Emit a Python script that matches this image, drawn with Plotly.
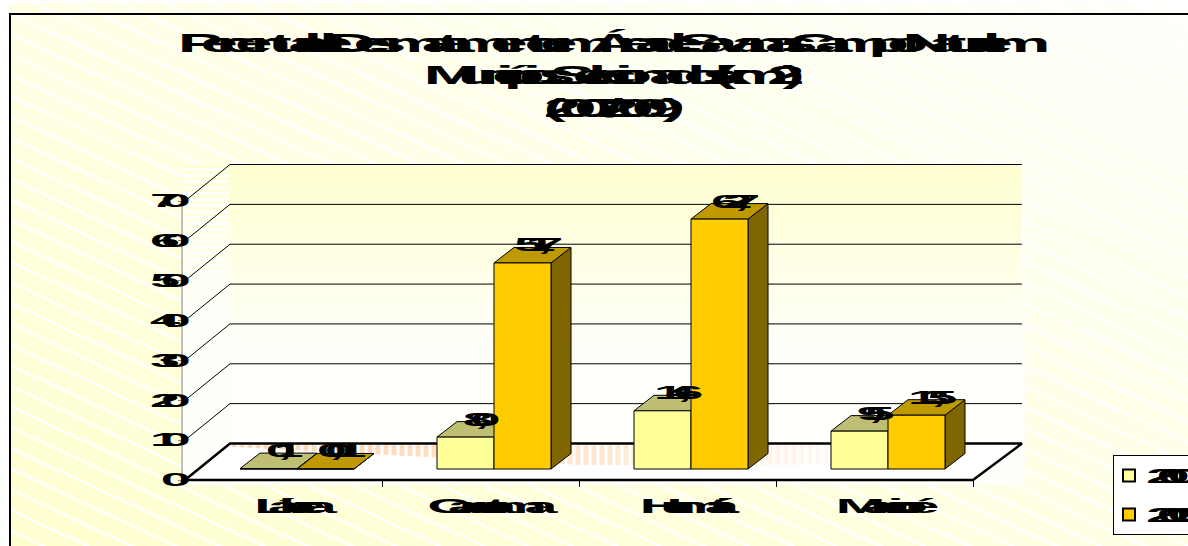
import plotly.graph_objects as go

categories = ["Lábrea", "Canutama", "Humaitá", "Manicoré"]
series_names = ["2007", "2009"]
values_2007 = [0.1, 8.0, 14.6, 9.5]
values_2009 = [0.01, 51.7, 62.7, 13.5]
labels_2007 = ["0,1", "8,0", "14,6", "9,5"]
labels_2009 = ["0,01", "51,7", "62,7", "13,5"]
y_ticks = [0, 10, 20, 30, 40, 50, 60, 70]
title_text = ("Percentual de Desmatamento em Área de Savanas - Campo Natural em<br>"
              "Municípios Selecionados (km2)<br>(2007/2009)")

W, H = 1188, 546
L, R, T, B = 176, 1028, 160, 490   # plot area in pixels
ZERO_PX = 480
FRONT = 185
AXIS_PX = 182
UX = 197.0
UY = 279 / 70.0

DX = 45 / UX
DXR = 49 / UX
DY = 36.5 / UY
BAR_W = 57 / UX
BAR_FRONT = 0.30
BAR_DX = 20 / UX
BAR_DY = 15.5 / UY
BASE_Y = 11 / UY
BASE_X = BAR_FRONT * DX
XMIN, XMAX = -0.5, 3.5


def px(x):
    return (x - L) / (R - L)


def py(y):
    return (B - y) / (B - T)


shapes = []


def rect(x0, y0, x1, y1, color):
    shapes.append(dict(type="rect", xref="paper", yref="paper", layer="below",
                       x0=px(x0), x1=px(x1), y0=py(y0), y1=py(y1),
                       fillcolor=color, line_width=0))


def seg(x0, y0, x1, y1, color, width):
    shapes.append(dict(type="line", xref="paper", yref="paper", layer="below",
                       x0=px(x0), x1=px(x1), y0=py(y0), y1=py(y1),
                       line=dict(color=color, width=width)))


def mix(a, b, t):
    t = max(0.0, min(1.0, t))
    return "rgb(%d,%d,%d)" % tuple(round(p + (q - p) * t) for p, q in zip(a, b))


# slide background: diagonal gradient from bottom-left to top-right
BANDS = 40
far = 3000
for i in range(BANDS):
    lv = i / BANDS
    pts = []
    for x in (-far, W + far):
        y = H - (lv - 0.5 * x / W) * 2 * H
        pts.append((x, y))
    a, b = pts
    path = "M %f %f L %f %f L %f %f Z" % (px(a[0]), py(a[1]), px(b[0]), py(b[1]), px(b[0]), py(a[1]))
    shapes.append(dict(type="path", xref="paper", yref="paper", layer="below", line_width=0,
                       fillcolor=mix((255, 255, 208), (255, 255, 252), lv), path=path))
# diagonal white stripes
SLOPE = 0.47
for k in range(-40, 30):
    y0 = 13.4 + k * 20.7
    x0, x1 = 11, W
    a, b = y0, y0 + SLOPE * (x1 - x0)
    if b < 3 or a > H:
        continue
    if a < 3:
        x0 = x0 + (3 - a) / SLOPE
        a = 3
    seg(x0, a, x1, b, "#FFFFFF", 2.4)
rect(-5, -5, 10, H + 5, "#FFFFFF")
rect(-5, -5, W + 5, 3, "#FFFFFF")

# chart area
rect(181, 165, 1025, 485, "#FFFFF9")
for i in range(0, 24):
    y = 165 + i * 6
    rect(181, y, 230, y + 3, mix((255, 255, 214), (255, 255, 249), i / 24))
for i in range(0, 40):
    y = 165 + i * 5
    rect(230, y, 1022, y + 5.5, mix((255, 255, 208), (255, 255, 250), i / 36))
rect(230, 365, 1022, 443, "#FFFFFC")

# floor with faint salmon shadow
shapes.append(dict(type="path", xref="paper", yref="paper", layer="below", line_width=0,
                   fillcolor="#FFFFFF",
                   path="M %f %f L %f %f L %f %f L %f %f Z" % (
                       px(FRONT), py(480), px(230), py(443), px(1022), py(443), px(973), py(480))))
for i, x in enumerate(range(232, 860, 8)):
    t = i / 78
    seg(x + 2, 445, x + 2, 447 + 18 * min(1, t * 1.8), mix((255, 214, 180), (255, 250, 246), t ** 1.3), 5)

traces = []


def line_trace(xs, ys, width=1, color="#000000"):
    traces.append(go.Scatter(x=xs, y=ys, mode="lines", line=dict(color=color, width=width),
                             hoverinfo="skip", showlegend=False))


for v in y_ticks[1:]:
    line_trace([XMIN, XMIN + DX, XMAX + DXR], [v, v + DY, v + DY], 1)
line_trace([XMIN - (FRONT - AXIS_PX) / UX] * 2, [y_ticks[0], y_ticks[-1]], 1, "#808080")
line_trace([XMIN, XMIN + DX, XMAX + DXR, XMAX, XMIN], [0, DY, DY, 0, 0], 2.5)


def poly_trace(xs, ys, fill):
    traces.append(go.Scatter(x=xs, y=ys, mode="lines", fill="toself", fillcolor=fill,
                             line=dict(color="#000000", width=1), hoverinfo="skip",
                             showlegend=False))


styles = [("#FFFF99", "#BFBF73", "#80804D"), ("#FFCC00", "#BF9900", "#806600")]
all_vals = [values_2007, values_2009]
all_labels = [labels_2007, labels_2009]
for s, vals in enumerate(all_vals):
    sx, sy, tx, ty, fx, fy = [], [], [], [], [], []
    for c, v in enumerate(vals):
        x0 = c - BAR_W + s * BAR_W + BASE_X
        x1 = x0 + BAR_W
        y0 = BASE_Y
        y1 = BASE_Y + v
        fx += [x0, x1, x1, x0, x0, None]
        fy += [y0, y0, y1, y1, y0, None]
        tx += [x0, x1, x1 + BAR_DX, x0 + BAR_DX, x0, None]
        ty += [y1, y1, y1 + BAR_DY, y1 + BAR_DY, y1, None]
        sx += [x1, x1 + BAR_DX, x1 + BAR_DX, x1, x1, None]
        sy += [y0, y0 + BAR_DY, y1 + BAR_DY, y1, y0, None]
    poly_trace(sx, sy, styles[s][2])
    poly_trace(tx, ty, styles[s][1])
    poly_trace(fx, fy, styles[s][0])

for s, vals in enumerate(all_vals):
    traces.append(go.Scatter(
        x=[c - BAR_W + (s + 0.5) * BAR_W + BASE_X + 13 / UX for c in range(4)],
        y=[BASE_Y + v + 16 / UY for v in vals],
        text=all_labels[s], mode="text", textposition="middle center",
        textfont=dict(family="Liberation Sans", size=18, color="#000000", weight="bold"),
        hoverinfo="skip", showlegend=False))

for s, name in enumerate(series_names):
    traces.append(go.Scatter(x=[None], y=[None], mode="markers", name=name, legendgroup=name,
                             marker=dict(symbol="square", size=14, color=styles[s][0],
                                         line=dict(color="#000000", width=1))))

fig = go.Figure(traces)
fig.update_layout(
    width=W, height=H,
    margin=dict(l=L, r=W - R, t=T, b=H - B, pad=0, autoexpand=False),
    paper_bgcolor="#FFFFFF", plot_bgcolor="rgba(0,0,0,0)",
    shapes=shapes + [dict(type="rect", xref="paper", yref="paper", layer="above",
                          x0=px(10), y0=py(14), x1=px(W + 20), y1=py(H + 20),
                          line=dict(color="#000000", width=2), fillcolor="rgba(0,0,0,0)")],
    title=dict(text="<b>" + title_text.replace("<br>", "</b><br><b>") + "</b>",
               x=609 / W, xanchor="center", xref="container",
               y=1 - 28 / H, yanchor="top", yref="container",
               font=dict(family="Liberation Sans", size=25, color="#000000")),
    xaxis=dict(range=[XMIN - (FRONT - L) / UX, XMIN + (R - FRONT) / UX], tickmode="array",
               anchor="free", position=(B - ZERO_PX) / (B - T),
               tickvals=[c + 9 / UX for c in range(4)], ticktext=categories,
               ticks="", showgrid=False, zeroline=False, showline=False,
               minor=dict(tickmode="array", tickvals=[0.5, 1.5, 2.5, 3.5], ticks="outside",
                          ticklen=6, tickcolor="#000000", showgrid=False),
               tickfont=dict(family="Liberation Sans", size=20, color="#000000", weight="bold")),
    yaxis=dict(range=[-(B - ZERO_PX) / UY, (ZERO_PX - T) / UY], tickmode="array", tickvals=y_ticks,
               anchor="free", position=(AXIS_PX - L) / (R - L),
               ticks="outside", ticklen=4, tickcolor="#808080", showgrid=False,
               zeroline=False, showline=False,
               tickfont=dict(family="Liberation Sans", size=18, color="#000000", weight="bold")),
    legend=dict(x=px(1113), xanchor="left", y=py(455), yanchor="top", bgcolor="#FFFFFF",
                bordercolor="#000000", borderwidth=1, traceorder="grouped", tracegroupgap=10,
                itemsizing="constant",
                font=dict(family="Liberation Sans", size=20, color="#000000", weight="bold")),
    hovermode=False,
)

post = """
document.body.style.margin='0';document.body.style.overflow='hidden';
function squeeze(sel,s,ls,origin,dx,dy){document.querySelectorAll(sel).forEach(function(t){
 t.style.letterSpacing=ls+'px';var b=t.getBBox();
 var ox=origin=='c'?b.x+b.width/2:(origin=='r'?b.x+b.width:b.x);
 var old=t.getAttribute('transform')||'';
 t.setAttribute('transform',old+' translate('+(ox+dx)+','+dy+') scale('+s+',1) translate('+(-ox)+',0)');
});}
squeeze('.gtitle',2.7,-8.25,'c',0,24);
squeeze('.ytick text',3,-6.4,'r',10,0);
squeeze('.xtick text',3,-7.6,'c',0,12);
squeeze('.textpoint text',3,-6.2,'c',0,0);
squeeze('.legendtext',3,-7.6,'l',-8,0);
document.querySelectorAll('.legendsymbols').forEach(function(g){g.setAttribute('transform','translate(-5,0)');});
"""
fig.write_html("out.html", post_script=post, config=dict(displayModeBar=False))
